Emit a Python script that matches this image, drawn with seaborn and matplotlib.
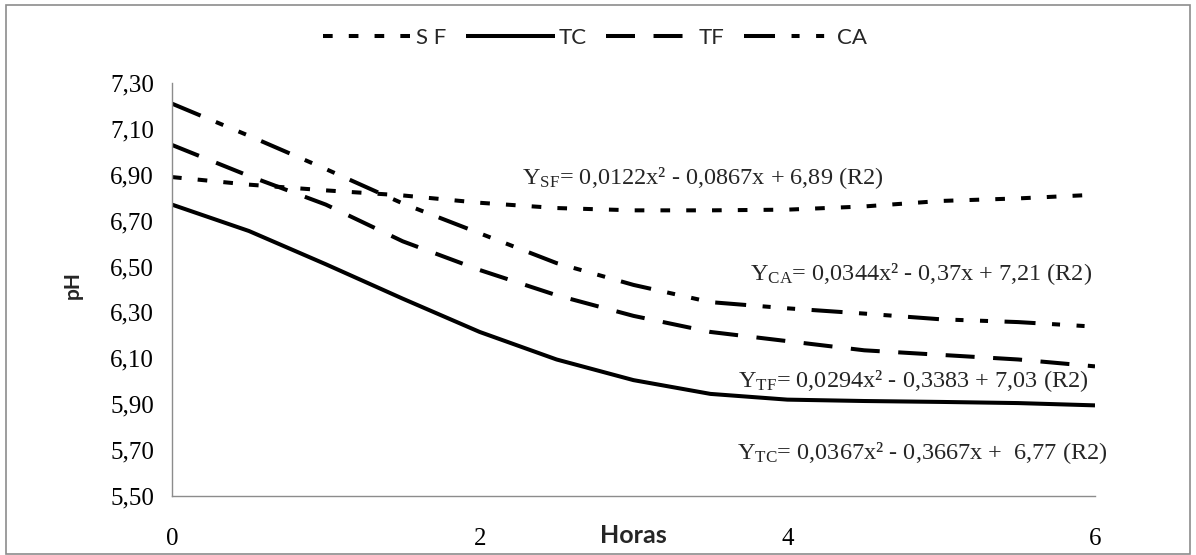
import matplotlib
matplotlib.use("Agg")
import matplotlib.pyplot as plt
import seaborn as sns
import pandas as pd
from matplotlib.patches import Rectangle
from matplotlib.ticker import FuncFormatter

# ---- data ----
horas = [0, 0.5, 1, 1.5, 2, 2.5, 3, 3.5, 4, 4.5, 5, 5.5, 6]
ph_sf = [6.89, 6.857, 6.832, 6.81, 6.778, 6.755, 6.745, 6.745, 6.748, 6.762, 6.786, 6.797, 6.813]
ph_tc = [6.77, 6.655, 6.51, 6.36, 6.215, 6.095, 6.005, 5.945, 5.92, 5.914, 5.91, 5.905, 5.895]
ph_tf = [7.03, 6.895, 6.77, 6.61, 6.485, 6.375, 6.285, 6.215, 6.175, 6.135, 6.115, 6.095, 6.065]
ph_ca = [7.21, 7.07, 6.925, 6.775, 6.645, 6.515, 6.42, 6.345, 6.318, 6.295, 6.27, 6.258, 6.238]
series_names = ["S F", "TC", "TF", "CA"]
x_ticks = [0, 2, 4, 6]
y_ticks = [5.50, 5.70, 5.90, 6.10, 6.30, 6.50, 6.70, 6.90, 7.10, 7.30]
equations = [
    r"Y$_{\mathrm{SF}}$= 0,0122x² - 0,0867x + 6,89 (R2)",
    r"Y$_{\mathrm{CA}}$= 0,0344x² - 0,37x + 7,21 (R2)",
    r"Y$_{\mathrm{TF}}$= 0,0294x² - 0,3383 + 7,03 (R2)",
    r"Y$_{\mathrm{TC}}$= 0,0367x² - 0,3667x +  6,77 (R2)",
]

sns.set_theme(style="white")
plt.rcParams["font.family"] = ["Liberation Serif", "DejaVu Serif"]
plt.rcParams["mathtext.fontset"] = "custom"
plt.rcParams["mathtext.rm"] = "Liberation Serif"
plt.rcParams["mathtext.it"] = "Liberation Serif:italic"

W, H = 1196, 555
fig = plt.figure(figsize=(W / 100, H / 100), dpi=100)
ax = fig.add_axes([172 / W, 1 - 496 / H, (1095 - 172) / W, (496 - 83) / H])

styles = {
    "S F": (0, (2.4, 4.0)),
    "TC": "-",
    "TF": (0, (7.2, 4.6)),
    "CA": (0, (7.7, 4.1, 2.0, 4.1, 2.0, 4.1)),
}
values = {"S F": ph_sf, "TC": ph_tc, "TF": ph_tf, "CA": ph_ca}
lw = 2.9
for name in series_names:
    df = pd.DataFrame({"Horas": horas, "pH": values[name]})
    sns.lineplot(data=df, x="Horas", y="pH", ax=ax, color="black", lw=lw,
                 linestyle=styles[name], label=name, dash_capstyle="butt",
                 solid_capstyle="butt")

ax.set_xlim(0, 6)
ax.set_ylim(5.5, 7.3)
ax.set_xticks(x_ticks)
ax.set_yticks(y_ticks)
ax.yaxis.set_major_formatter(FuncFormatter(lambda v, p: f"{v:.2f}".replace(".", ",")))
ax.xaxis.set_major_formatter(FuncFormatter(lambda v, p: f"{v:g}"))
for s in ["top", "right"]:
    ax.spines[s].set_visible(False)
for s in ["left", "bottom"]:
    ax.spines[s].set_color("#8c8c8c")
    ax.spines[s].set_linewidth(1.0)
ax.tick_params(axis="both", colors="#8c8c8c", labelcolor="black", direction="out",
               length=7, width=1.0, labelsize=18)
ax.tick_params(axis="x", pad=16)
ax.tick_params(axis="y", pad=6)
ax.grid(False)

ax.set_xlabel("Horas", fontsize=18, fontweight="bold", family=["Lato", "DejaVu Sans"])
ax.xaxis.set_label_coords(0.5, -0.095)
ax.xaxis.label.set_verticalalignment("center")
ax.set_ylabel("pH", fontsize=15, fontweight="bold", family=["Lato", "DejaVu Sans"])
ax.yaxis.set_label_coords(-0.107, 0.51)
ax.yaxis.label.set_verticalalignment("center")

# legend
handles, labels = ax.get_legend_handles_labels()
if ax.get_legend():
    ax.get_legend().remove()
fig.legend(handles, labels, loc="center", bbox_to_anchor=(595 / W, 1 - 38 / H),
           ncol=4, frameon=False, handlelength=4.0, handletextpad=0.15,
           columnspacing=0.9, prop={"family": ["Lato", "DejaVu Sans"], "size": 16})

# equation annotations
eq_pos = [(522, 178), (750, 274), (738, 381), (737, 453)]
for txt, (px, py) in zip(equations, eq_pos):
    fig.text(px / W, 1 - py / H, txt, fontsize=17.5, ha="left", va="center")

# outer border
fig.patches.append(Rectangle((6 / W, 1 / H), (1190 - 6) / W, (550 - 1) / H,
                             transform=fig.transFigure, fill=False,
                             edgecolor="#8c8c8c", lw=1.2))

fig.savefig("out.png", dpi=100)
